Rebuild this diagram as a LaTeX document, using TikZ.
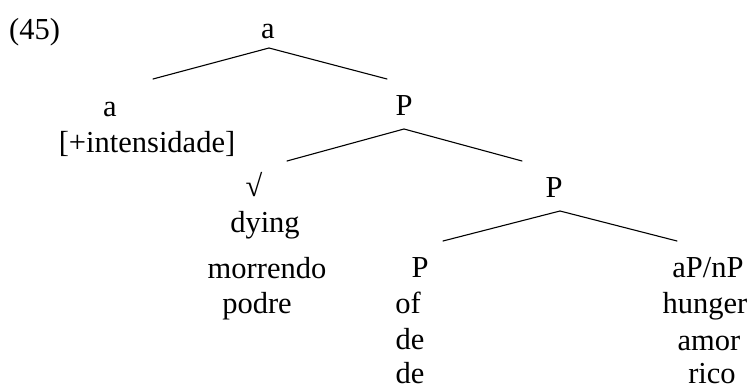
\documentclass[tikz,border=0pt]{standalone}
\usepackage{fontspec}
\setmainfont{Liberation Serif}
\begin{document}
\begin{tikzpicture}[x=1pt,y=-1pt,
  lbl/.style={anchor=base,inner sep=0pt,font=\fontsize{30.5}{36}\selectfont},
  br/.style={line width=1.1pt,line cap=round}]
\useasboundingbox (0,0) rectangle (753,390);
% labels
\node[lbl,anchor=base west] (ex) at (9,40) {(45)};
\node[lbl] (a0) at (268,39) {a};
\node[lbl] (a1) at (110,117) {a};
\node[lbl] (feat) at (147,153) {[+intensidade]};
\node[lbl] (P1) at (404,116) {P};
\node[lbl] (rt) at (254,197) {√};
\node[lbl] (dying) at (265,233) {dying};
\node[lbl] (morr) at (267,279) {morrendo};
\node[lbl] (podre) at (257,314) {podre};
\node[lbl] (P2) at (554,198) {P};
\node[lbl] (P3) at (420,278) {P};
\node[lbl] (of) at (408,313) {of};
\node[lbl] (de1) at (410,349) {de};
\node[lbl] (de2) at (410,384) {de};
\node[lbl] (aPnP) at (708,278) {aP/nP};
\node[lbl] (hung) at (705,314) {hunger};
\node[lbl] (amor) at (709,350) {amor};
\node[lbl] (rico) at (712,384) {rico};
% branch points
\coordinate (t0) at (269,48);
\coordinate (l0) at (153,79);
\coordinate (r0) at (387,79);
\coordinate (t1) at (404,129);
\coordinate (l1) at (287,161);
\coordinate (r1) at (522,161);
\coordinate (t2) at (560,211);
\coordinate (l2) at (443,241);
\coordinate (r2) at (677,241);
\draw[br] (l0) -- (t0) -- (r0);
\draw[br] (l1) -- (t1) -- (r1);
\draw[br] (l2) -- (t2) -- (r2);
\end{tikzpicture}
\end{document}
